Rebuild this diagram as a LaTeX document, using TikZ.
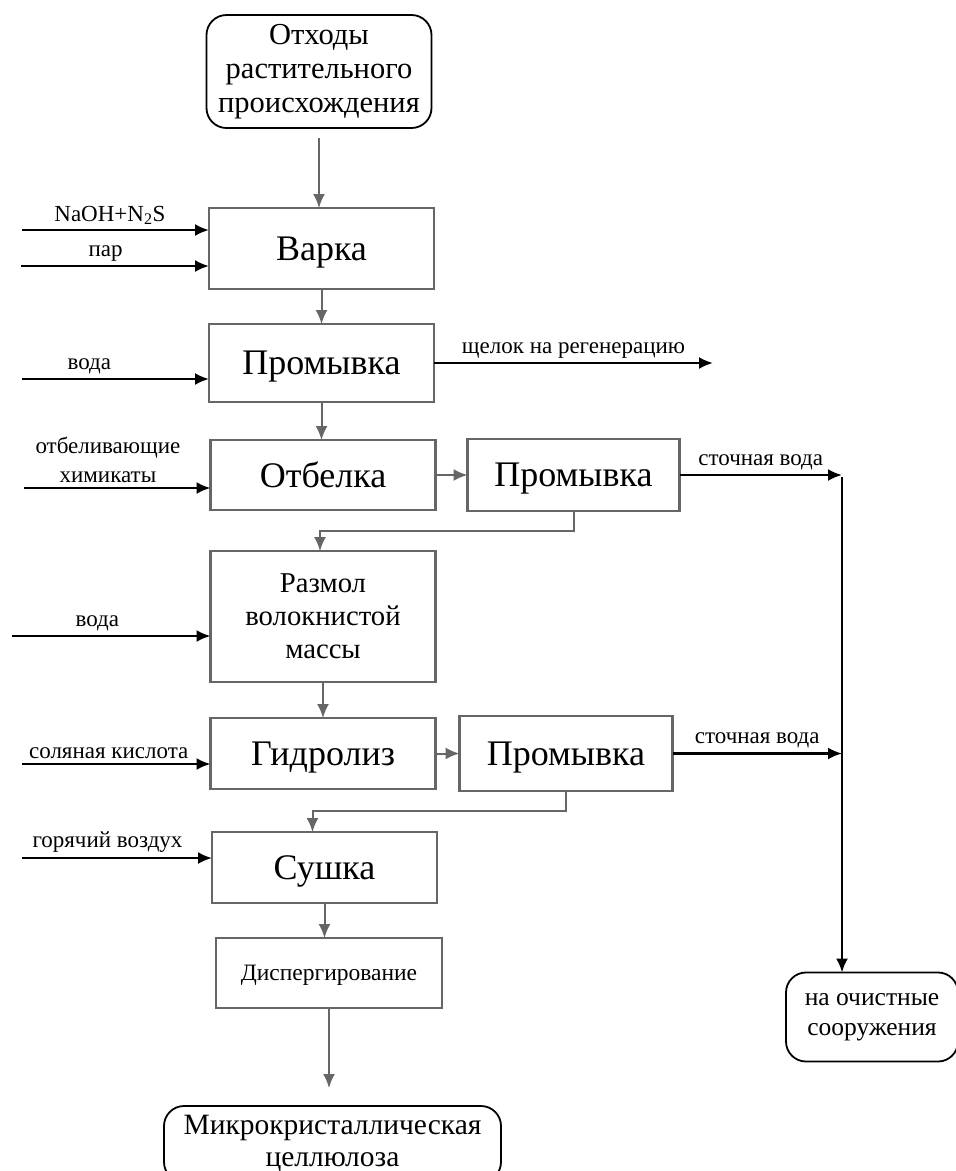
\documentclass[tikz,border=0pt]{standalone}
\usepackage{fontspec}
\setmainfont{Liberation Serif}
\usetikzlibrary{positioning,arrows.meta}

\begin{document}
\begin{tikzpicture}[x=1pt, y=1pt, node distance=35pt,
  >={Latex[length=14pt,width=12pt]},
  proc/.style={rectangle, draw=black!60, line width=2.6pt, outer sep=0pt, minimum width=225pt, minimum height=72pt, inner sep=2pt, text depth=0pt, align=center, font=\fontsize{36}{40}\selectfont},
  term/.style={rectangle, rounded corners=20pt, draw, line width=1.8pt, outer sep=0pt, align=center, inner sep=2pt},
  flow/.style={->, draw=black!60, line width=2pt},
  feed/.style={->, line width=2.2pt},
  lbl/.style={font=\fontsize{23}{29}\selectfont, inner sep=4pt, align=center}]
  \useasboundingbox (0,0) rectangle (956,-1171);
  % main line
  \node[term, minimum width=225pt, minimum height=113pt, font=\fontsize{30.5}{34}\selectfont] (waste) at (319,-71.5) {Отходы\\растительного\\происхождения};
  \node[proc, minimum height=81pt, below=80pt of waste, xshift=2.5pt] (cook) {Варка};
  \node[proc, minimum height=78pt, below=of cook] (wash1) {Промывка};
  \node[proc, minimum height=70pt, below=38pt of wash1, xshift=1.5pt] (bleach) {Отбелка};
  \node[proc, minimum width=212pt, right=32pt of bleach] (wash2) {Промывка};
  \node[proc, minimum height=131pt, below=41pt of bleach, font=\fontsize{28.7}{33}\selectfont] (grind) {Размол\\волокнистой\\массы};
  \node[proc, minimum height=71pt, below=36pt of grind] (hydro) {Гидролиз};
  \node[proc, minimum width=213pt, minimum height=75pt, right=24pt of hydro] (wash3) {Промывка};
  \node[proc, minimum height=71pt, below=43pt of hydro, xshift=1.5pt] (dry) {Сушка};
  \node[proc, minimum width=226pt, minimum height=70pt, below=of dry, xshift=4.5pt, font=\fontsize{23.5}{26}\selectfont] (disp) {Диспергирование};
  \node[term, minimum width=337pt, minimum height=76pt, below=98pt of disp, xshift=3.5pt, font=\fontsize{29.5}{32}\selectfont] (mcc) {Микрокристаллическая\\целлюлоза};
  \node[term, minimum width=172pt, minimum height=89pt, font=\fontsize{25.5}{30}\selectfont] (clean) at (872,-1017) {на очистные\\сооружения};

  \draw[flow] ([yshift=-10pt]waste.south) -- (waste.south |- cook.north);
  \draw[flow] (cook) -- (wash1);
  \draw[flow] (wash1.south) -- (wash1.south |- bleach.north);
  \draw[flow] (bleach) -- (wash2);
  \draw[flow] (wash2.south) -- ++(0,-20) -| ([xshift=-3pt]grind.north);
  \draw[flow] (grind) -- (hydro);
  \draw[flow] (hydro) -- (wash3);
  \draw[flow] (wash3.south) -- ++(0,-20) -| ([xshift=-12pt]dry.north);
  \draw[flow] (dry.south) -- (dry.south |- disp.north);
  \draw[flow] (disp.south) -- ([yshift=18pt]disp.south |- mcc.north);

  % inputs
  \coordinate (in1) at (22,-230);
  \coordinate (in2) at (21,-266);
  \coordinate (in3) at (22,-379);
  \coordinate (in4) at (24,-488);
  \coordinate (in5) at (12,-636);
  \coordinate (in6) at (22,-764);
  \coordinate (in7) at (22,-858);
  \draw[feed] (in1) -- node[lbl, above, pos=.47] {NaOH+N\textsubscript{2}S} (in1 -| cook.west);
  \draw[feed] (in2) -- node[lbl, above, pos=.45] {пар} (in2 -| cook.west);
  \draw[feed] (in3) -- node[lbl, above, pos=.36] {вода} (in3 -| wash1.west);
  \draw[feed] (in4) -- node[lbl, above, pos=.45] {отбеливающие\\химикаты} (in4 -| bleach.west);
  \draw[feed] (in5) -- node[lbl, above, pos=.43] {вода} (in5 -| grind.west);
  \draw[feed] (in6) -- node[lbl, above, pos=.46] {соляная кислота} (in6 -| hydro.west);
  \draw[feed] (in7) -- node[lbl, above, pos=.45] {горячий воздух} (in7 -| dry.west);

  % outputs
  \coordinate (lye) at (713,-363);
  \coordinate (drain) at (842,-477);
  \draw[feed] (wash1.east) -- node[lbl, above] {щелок на регенерацию} (wash1.east -| lye);
  \draw[feed] (wash2.east) -- node[lbl, above] {сточная вода} (wash2.east -| drain);
  \draw[feed] (wash3.east) -- node[lbl, above] {сточная вода} (wash3.east -| drain);
  \draw[feed] (drain) -- (drain |- clean.north);
\end{tikzpicture}
\end{document}
